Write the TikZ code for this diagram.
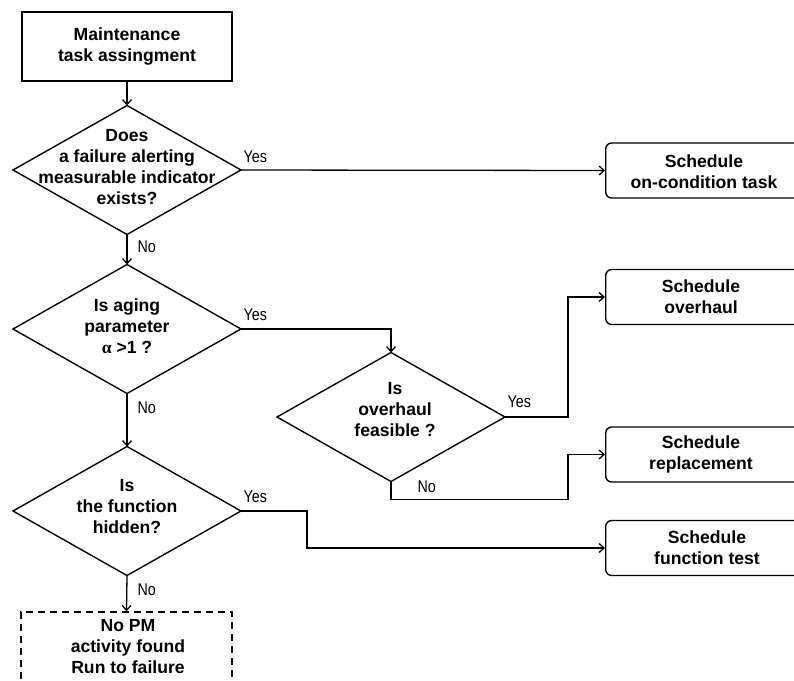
\documentclass[tikz,border=0pt]{standalone}
\usepackage{fontspec}
\setmainfont{Liberation Sans}
\newfontfamily\narrowfont[FakeStretch=0.84]{Liberation Sans}
\newfontfamily\greekfont{Liberation Serif}
\usetikzlibrary{shapes.geometric,arrows.meta}

\begin{document}
\begin{tikzpicture}[x=1pt,y=-1pt,
  line width=1.3pt,
  txt/.style={font=\fontsize{17.6}{21}\selectfont\bfseries, align=center, inner sep=0pt},
  procbox/.style={draw, line width=1.4pt, minimum width=210pt, minimum height=69pt, inner sep=0pt},
  taskbox/.style={draw, line width=1.4pt, rounded corners=6pt, minimum width=195pt, minimum height=55pt, inner sep=0pt},
  endbox/.style={draw, line width=1.4pt, dash pattern=on 7pt off 5pt, minimum width=211pt, minimum height=70pt, inner sep=0pt},
  decision/.style={draw, diamond, line width=1.4pt, minimum width=228pt, minimum height=129pt, inner sep=0pt, outer sep=0pt},
  lbl/.style={font=\narrowfont\fontsize{17}{19}\selectfont, inner sep=0pt, anchor=west},
  arr/.style={-{Straight Barb[length=5pt,width=9pt]}},
]
\useasboundingbox (0,0) rectangle (794,680);
\clip (0,0) rectangle (794,680);

% process boxes on the left
\node[procbox] (start) at (127,46.5) {};
\node[txt] at (start) {Maintenance\\task assingment};

% decisions
\node[decision] (d1) at (127,170) {};
\node[txt] at (127,167) {Does\\a failure alerting\\measurable indicator\\exists?};

\node[decision] (d2) at (127,329) {};
\node[txt] at (127,326) {Is aging\\parameter\\{\greekfont α} >1 ?};

\node[decision] (d3) at (391,417) {};
\node[txt] at (395,410) {Is\\overhaul\\feasible ?};

\node[decision] (d4) at (127,511) {};
\node[txt] at (127,507) {Is\\the function\\hidden?};

% terminal box (dashed)
\node[endbox] (stop) at (126.5,647) {};
\node[txt] at (128,647) {No PM\\activity found\\Run to failure};

% scheduled tasks on the right
\node[taskbox, anchor=west] (b1) at (605,170.5) {};
\node[txt] at (704,172) {Schedule\\on-condition task};
\node[taskbox, anchor=west] (b2) at (605,297) {};
\node[txt] at (701,297) {Schedule\\overhaul};
\node[taskbox, anchor=west] (b3) at (605,454.5) {};
\node[txt] at (701,454.5) {Schedule\\replacement};
\node[taskbox, anchor=west] (b4) at (605,548) {};
\node[txt] at (707,548) {Schedule\\function test};

% routing columns
\coordinate (jy) at (568,0);
\coordinate (kx) at (307,0);

% connectors
\draw[arr] (start) -- (d1.north);
\draw[arr] (d1.east) -- (b1.west);
\draw[arr] (d1.south) -- (d2.north);
\draw[arr] (d2.east) -| (d3.north);
\draw[arr] (d2.south) -- (d4.north);
\draw[arr] (d3.east) -| (jy |- b2.west) -- (b2.west);
\draw[arr] (d3.south) -- ++(0,18) -| (jy |- b3.west) -- (b3.west);
\draw[arr] (d4.east) -| (kx |- b4.west) -- (b4.west);
\draw[arr] (d4.south) -- (stop.north);

% branch labels
\node[lbl] at (243,157) {Yes};
\node[lbl] at (137,247) {No};
\node[lbl] at (243,315) {Yes};
\node[lbl] at (137,408) {No};
\node[lbl] at (507,402) {Yes};
\node[lbl] at (417,487) {No};
\node[lbl] at (243,497) {Yes};
\node[lbl] at (137,590) {No};
\end{tikzpicture}
\end{document}
